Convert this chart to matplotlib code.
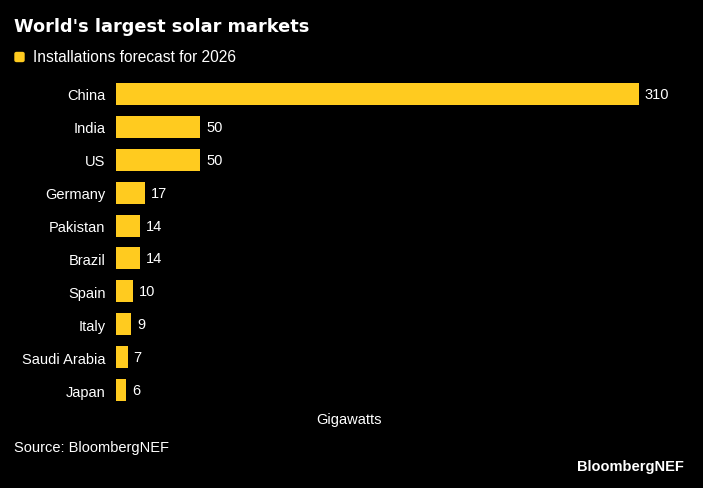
import matplotlib.pyplot as plt
from matplotlib.patches import FancyBboxPatch

countries = ['China', 'India', 'US', 'Germany', 'Pakistan', 'Brazil',
             'Spain', 'Italy', 'Saudi Arabia', 'Japan']
gigawatts = [310, 50, 50, 17, 14, 14, 10, 9, 7, 6]

bar_color = '#FFCB1F'
plt.rcParams['font.family'] = ['Liberation Sans', 'DejaVu Sans']

fig = plt.figure(figsize=(7.03, 4.89), dpi=100, facecolor='black')
ax = fig.add_axes([116 / 703, 1 - 407.5 / 489, (639 - 116) / 703, (407.5 - 78.5) / 489])
ax.set_facecolor('black')

ypos = list(range(len(countries)))
ax.barh(ypos, gigawatts, height=0.67, color=bar_color)
ax.set_xlim(0, 310)
ax.set_ylim(len(countries) - 0.5, -0.5)

for y, v in zip(ypos, gigawatts):
    ax.text(v + 3.5, y, str(v), color='white', va='center', ha='left', fontsize=10.5)

ax.set_yticks(ypos)
ax.set_yticklabels(countries, color='white', fontsize=10.5)
ax.tick_params(axis='y', length=0, pad=7.5)
ax.set_xticks([])
for s in ax.spines.values():
    s.set_visible(False)

fig.text(14 / 703, 1 - 27 / 489, "World's largest solar markets", color='white',
         fontsize=12.8, fontweight='heavy', family=['DejaVu Sans'], va='center')
fig.patches.append(FancyBboxPatch((15 / 703, 1 - 62.5 / 489), 9 / 703, 9 / 489,
                                  boxstyle='round,pad=0,rounding_size=0.0025',
                                  transform=fig.transFigure, color=bar_color))
fig.text(33 / 703, 1 - 58 / 489, 'Installations forecast for 2026', color='white',
         fontsize=11.2, va='center')
fig.text(349 / 703, 1 - 420 / 489, 'Gigawatts', color='white', fontsize=10.5,
         ha='center', va='center')
fig.text(14 / 703, 1 - 448 / 489, 'Source: BloombergNEF', color='white',
         fontsize=10.5, va='center')
fig.text(684 / 703, 1 - 467 / 489, 'BloombergNEF', color='white', fontsize=10.5,
         fontweight='bold', ha='right', va='center')

fig.savefig('out.png', dpi=100, facecolor='black')
